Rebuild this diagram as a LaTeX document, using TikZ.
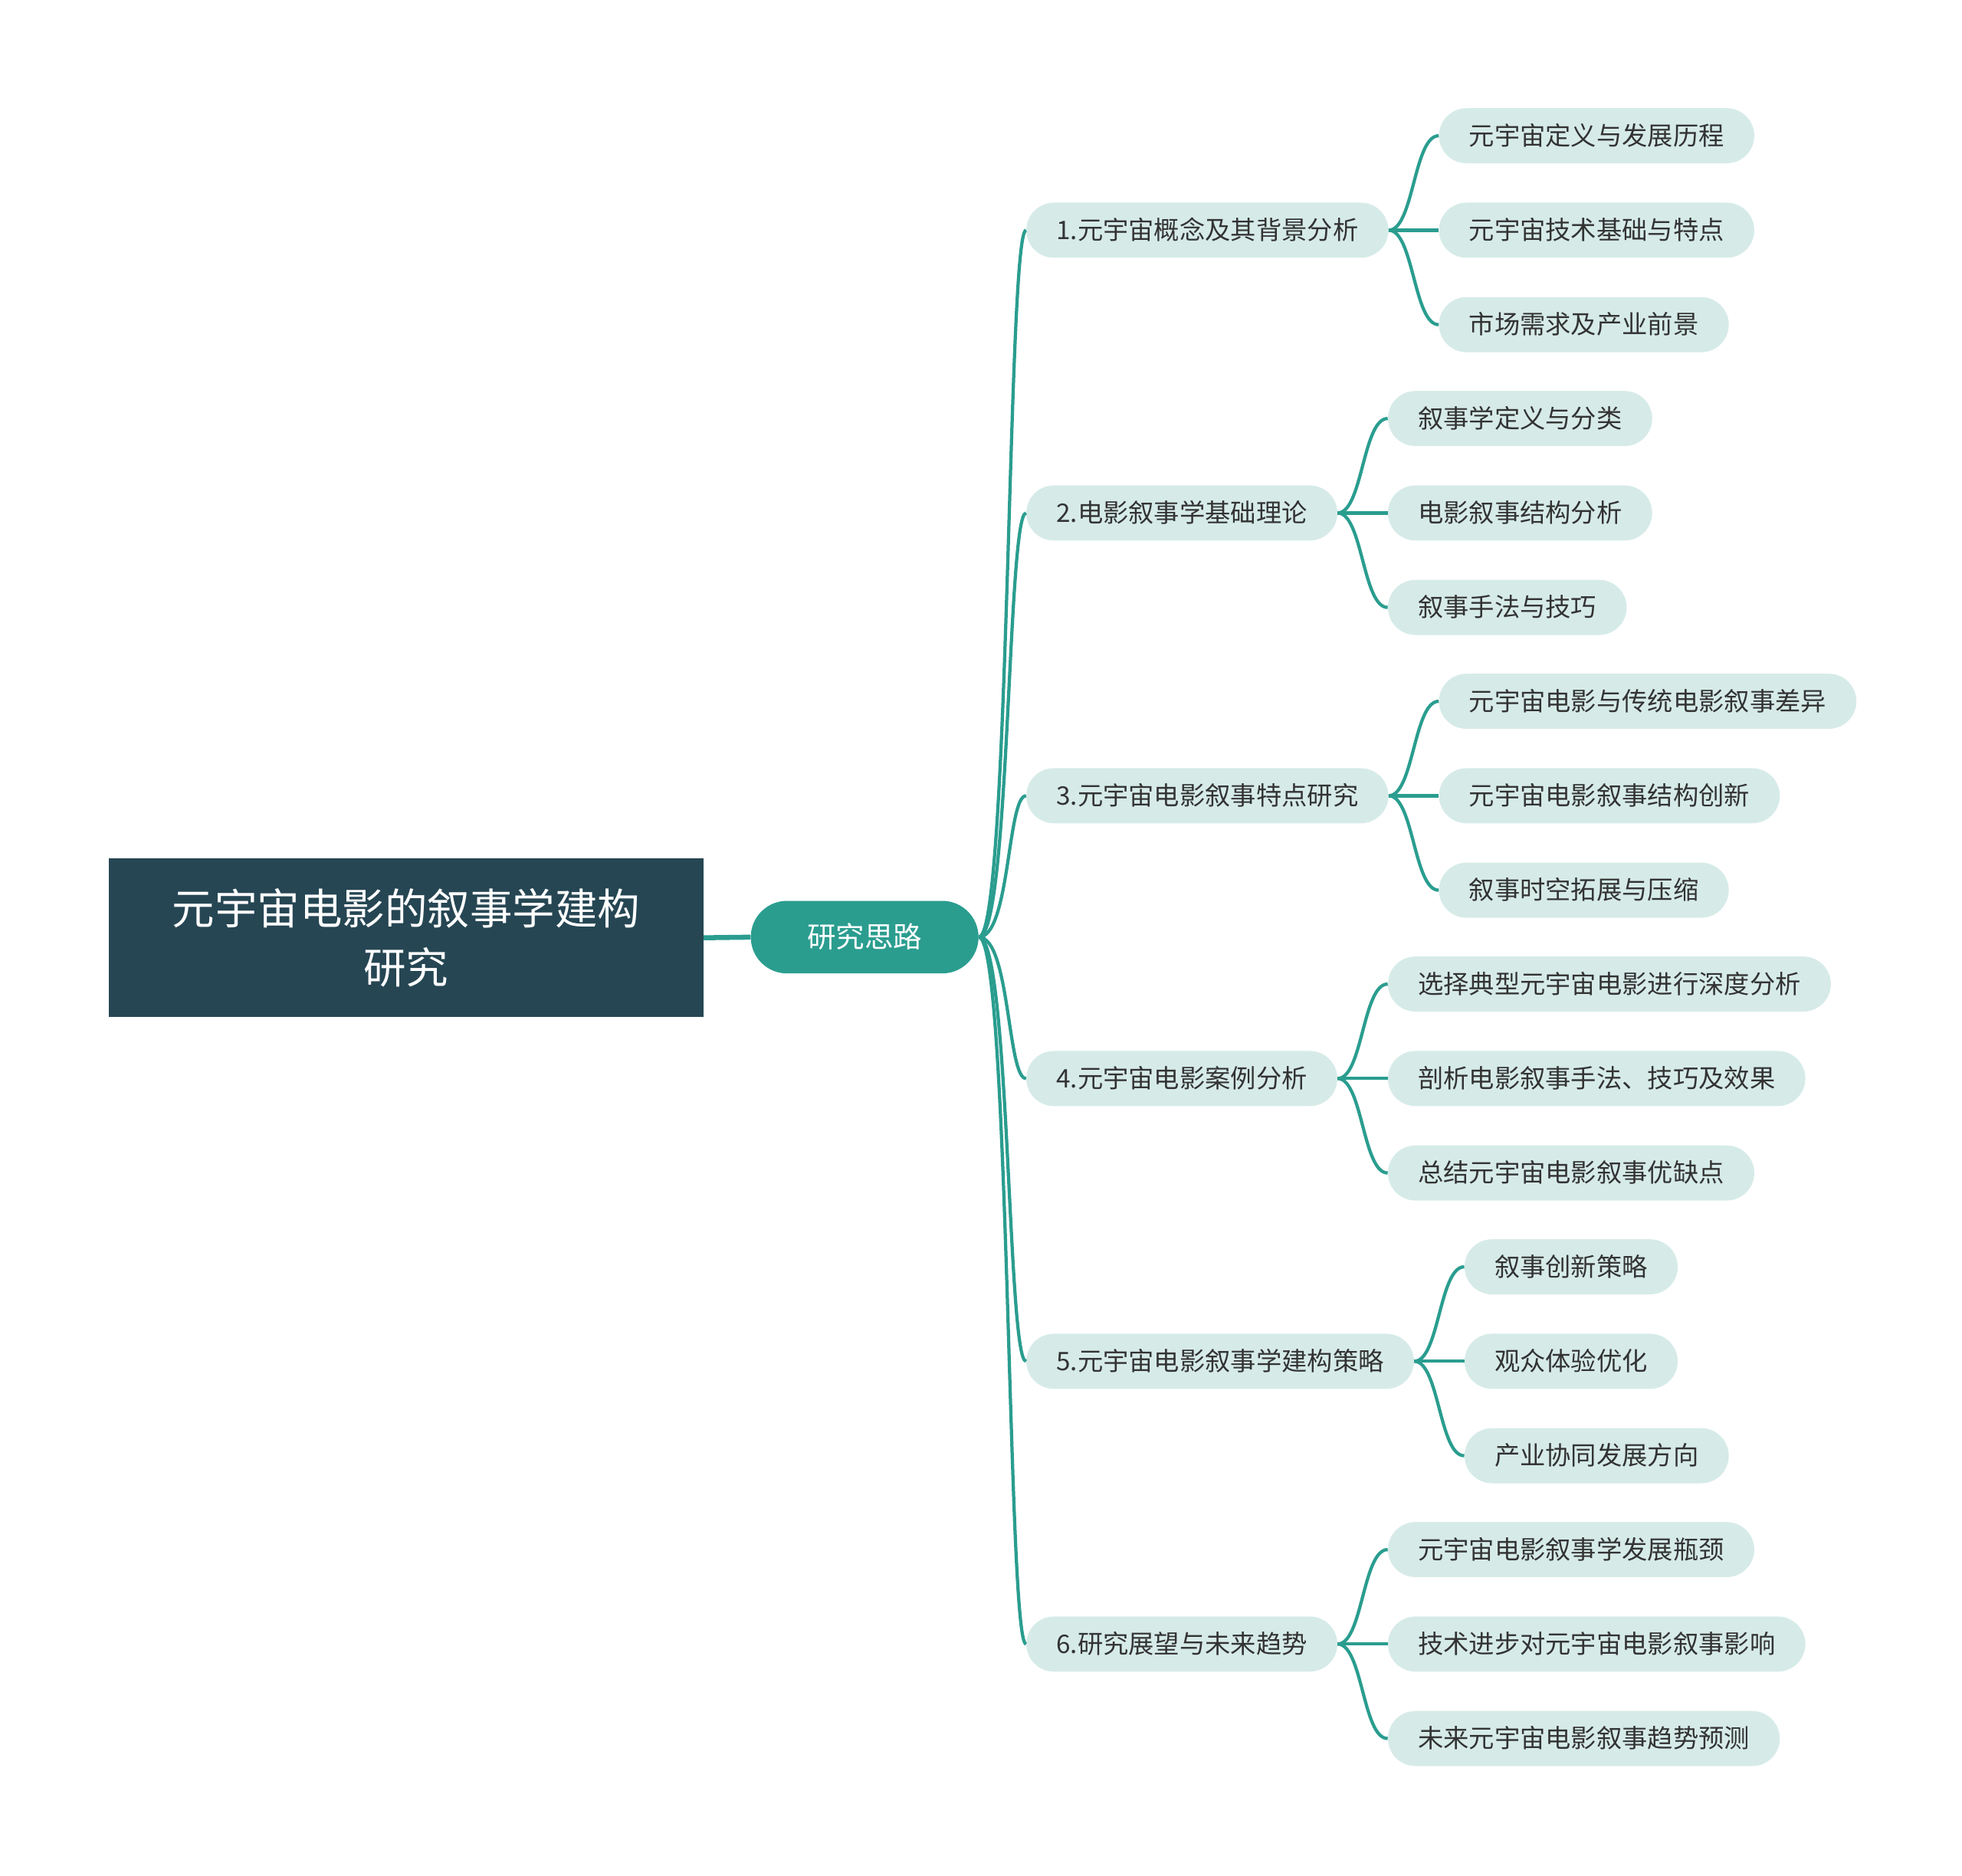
\documentclass[tikz,border=0pt]{standalone}
\usepackage{fontspec}
\setmainfont{Noto Sans CJK SC}
\usetikzlibrary{positioning}
\def\branchsep{40pt}
\def\leafsep{75.5pt}

\definecolor{rootblue}{HTML}{264653}
\definecolor{mainteal}{HTML}{2A9D8F}
\definecolor{paleteal}{HTML}{D6EBE8}
\definecolor{inkgray}{HTML}{333333}

\begin{document}
\begin{tikzpicture}[x=1pt,y=-1pt]
    \tikzstyle{link}=[draw=mainteal,line width=2.6pt]
    \tikzstyle{pill}=[fill=paleteal,text=inkgray,rounded corners=22pt,minimum height=44pt,
        inner xsep=24pt,inner ysep=0pt,text height=17pt,text depth=2pt,
        font=\fontsize{20.4}{24}\selectfont]
    \tikzstyle{topic}=[pill,anchor=west]
    \tikzstyle{subtopic}=[pill]

    \useasboundingbox (0,0) rectangle (1568,1499);

    % Root and centre
    \node[fill=rootblue,text=white,minimum width=475pt,minimum height=127pt,align=center,
        font=\fontsize{34}{47}\selectfont] (R) at (324.5,749.5)
        {元宇宙电影的叙事学建构\\研究};
    \node[fill=mainteal,text=white,rounded corners=29pt,minimum width=182pt,minimum height=58pt,
        text height=19pt,text depth=2pt,font=\fontsize{23}{28}\selectfont] (C) at (691,749) {研究思路};
    \draw[link,line width=4pt] (R.east) -- (C.west);

    % First level
    \foreach \name/\y/\txt in {1/184/{1.元宇宙概念及其背景分析},2/410/{2.电影叙事学基础理论},
        3/636/{3.元宇宙电影叙事特点研究},4/862/{4.元宇宙电影案例分析},
        5/1088/{5.元宇宙电影叙事学建构策略},6/1314/{6.研究展望与未来趋势}}
        \node[topic] (T-\name) at (820,\y) {\txt};

    % Second level, three leaves for every topic
    \foreach \p/\a/\b/\c in {1/{元宇宙定义与发展历程}/{元宇宙技术基础与特点}/{市场需求及产业前景},
        2/{叙事学定义与分类}/{电影叙事结构分析}/{叙事手法与技巧},
        3/{元宇宙电影与传统电影叙事差异}/{元宇宙电影叙事结构创新}/{叙事时空拓展与压缩},
        4/{选择典型元宇宙电影进行深度分析}/{剖析电影叙事手法、技巧及效果}/{总结元宇宙电影叙事优缺点},
        5/{叙事创新策略}/{观众体验优化}/{产业协同发展方向},
        6/{元宇宙电影叙事学发展瓶颈}/{技术进步对元宇宙电影叙事影响}/{未来元宇宙电影叙事趋势预测}}
    {
        \node[subtopic,right=\branchsep of T-\p,yshift=\leafsep] (S-\p-1) {\a};
        \node[subtopic,right=\branchsep of T-\p] (S-\p-2) {\b};
        \node[subtopic,right=\branchsep of T-\p,yshift=-\leafsep] (S-\p-3) {\c};
    }

    % Connect the centre with every topic
    \foreach \dest in {1,...,6}
        \draw[link] (C.east) .. controls +(25,0) and +(-15,0) .. (T-\dest.west);

    % Connect every topic with its leaves
    \foreach \source in {1,...,6}
        \foreach \dest in {1,...,3}
            \draw[link] (T-\source.east) .. controls +(20,0) and +(-20,0) .. (S-\source-\dest.west);
\end{tikzpicture}
\end{document}
